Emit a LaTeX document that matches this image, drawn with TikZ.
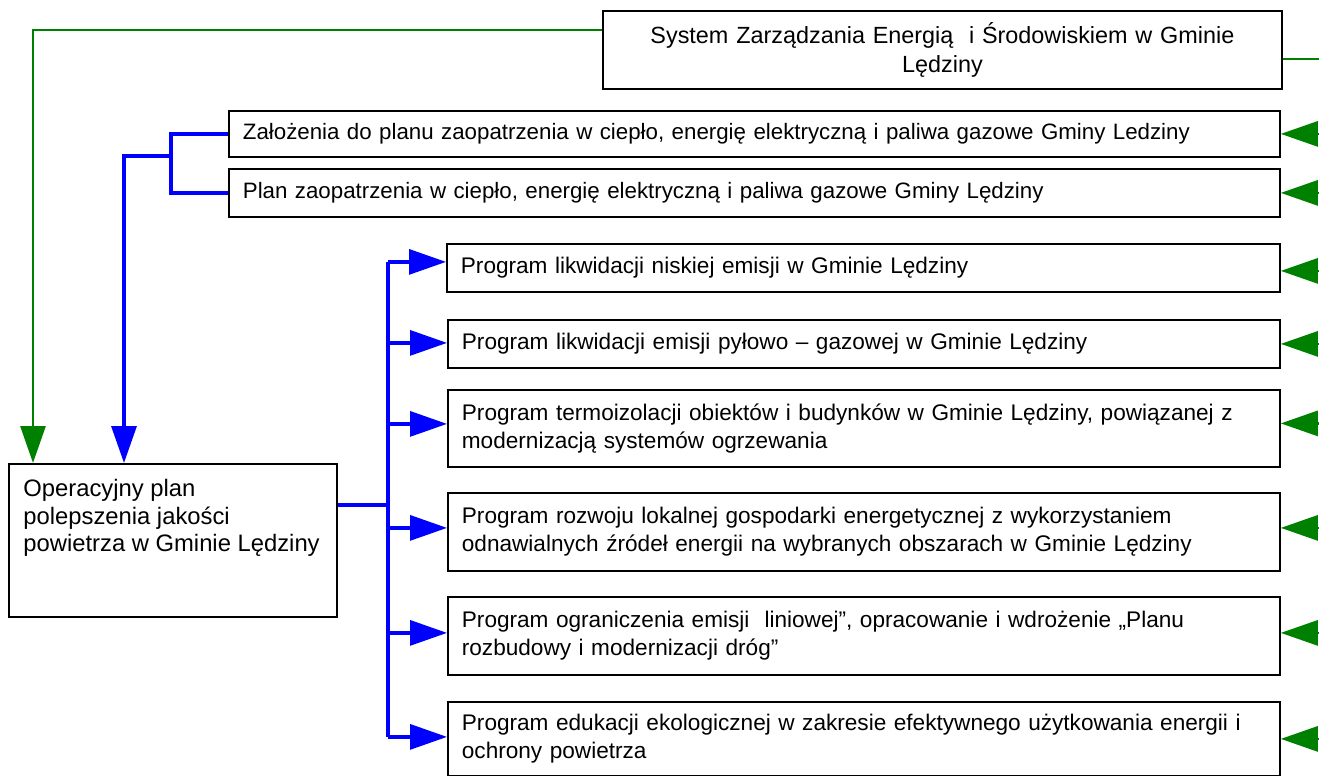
\documentclass[tikz,border=0pt]{standalone}
\usepackage{fontspec}
\setmainfont{Liberation Sans}
\usetikzlibrary{arrows.meta}
\usetikzlibrary{calc}
\colorlet{dkgreen}{green!50!black}
\tikzset{
  box/.style={draw, line width=0.9pt, anchor=north west, inner xsep=7pt, inner ysep=0pt,
    align=left, font=\fontsize{11.3}{14}\selectfont},
  bluewire/.style={blue, line width=1.6pt},
  greenwire/.style={dkgreen, line width=1.4pt},
  bluearr/.style={bluewire, -{Triangle[length=18.5pt,width=12.5pt]}},
  greenarr/.style={greenwire, -{Triangle[length=18.5pt,width=12.5pt]}}
}

\begin{document}
\begin{tikzpicture}[x=0.5pt, y=-0.5pt]
\useasboundingbox (0,0) rectangle (1319,776);

\node[box, align=center, text width=325.5pt, minimum height=39pt,
  font=\fontsize{11.7}{14.5}\selectfont] (szez) at (602,10)
  {System Zarządzania Energią~ i Środowiskiem w Gminie\\Lędziny};

\node[box, text width=511.5pt, minimum height=23pt, font=\fontsize{11.15}{14}\selectfont] (zal) at (228,110)
  {Założenia do planu zaopatrzenia w ciepło, energię elektryczną i paliwa gazowe Gminy Ledziny};
\node[box, text width=511.5pt, minimum height=24pt, font=\fontsize{11.15}{14}\selectfont] (plan) at (228,168)
  {Plan zaopatrzenia w ciepło, energię elektryczną i paliwa gazowe Gminy Lędziny};

\node[box, text width=402.5pt, minimum height=24pt] (p1) at (446,243)
  {Program likwidacji niskiej emisji w Gminie Lędziny};
\node[box, text width=402pt, minimum height=24pt] (p2) at (447,319)
  {Program likwidacji emisji pyłowo – gazowej w Gminie Lędziny};
\node[box, text width=402pt, minimum height=38.5pt] (p3) at (447,389)
  {Program termoizolacji obiektów i budynków w Gminie Lędziny, powiązanej z\\modernizacją systemów ogrzewania};
\node[box, text width=402pt, minimum height=39pt] (p4) at (447,492)
  {Program rozwoju lokalnej gospodarki energetycznej z wykorzystaniem\\odnawialnych źródeł energii na wybranych obszarach w Gminie Lędziny};
\node[box, text width=402pt, minimum height=39pt] (p5) at (447,596)
  {Program ograniczenia emisji~ liniowej”, opracowanie i wdrożenie „Planu\\rozbudowy i modernizacji dróg”};
\node[box, text width=402pt, minimum height=37pt] (p6) at (447,701)
  {Program edukacji ekologicznej w zakresie efektywnego użytkowania energii i\\ochrony powietrza};

\node[box, minimum width=164pt, minimum height=76.5pt] (oper) at (8,463) {};
\node[anchor=north west, inner sep=0pt, align=left, font=\fontsize{11.9}{13.75}\selectfont] (opertxt) at (23,479)
  {Operacyjny plan\\polepszenia jakości\\powietrza w Gminie Lędziny};

\coordinate (rim) at (1319,0);
\coordinate (fork) at (171,156);
\coordinate (bus) at (388,0);

\draw[greenwire] ([yshift=-4.5pt]szez.east) -- ([yshift=-4.5pt]szez.east -| rim);
\draw[greenarr] ([yshift=10pt]szez.west) -| ([xshift=12.5pt]oper.north west);
\foreach \b/\s in {zal/0,plan/0,p1/-1.5,p2/0,p3/2.5,p4/2,p5/1.5,p6/0}
  \draw[greenarr] ([yshift=\s pt]\b.east -| rim) -- ([yshift=\s pt]\b.east);

\draw[bluewire] (zal.west) -| (fork) |- (plan.west);
\draw[bluearr] (fork) -| ([xshift=58pt]oper.north west);

\draw[bluewire] ([yshift=17.75pt]oper.east) -- ([yshift=17.75pt]oper.east -| bus);
\draw[bluewire] ([yshift=3pt]p1.west -| bus) -- ([yshift=1pt]p6.west -| bus);
\foreach \b/\s in {p1/3,p2/0.5,p3/2.25,p4/2,p5/1.5,p6/1}
  \draw[bluearr] ([yshift=\s pt]\b.west -| bus) -- ([yshift=\s pt]\b.west);

\end{tikzpicture}
\end{document}
